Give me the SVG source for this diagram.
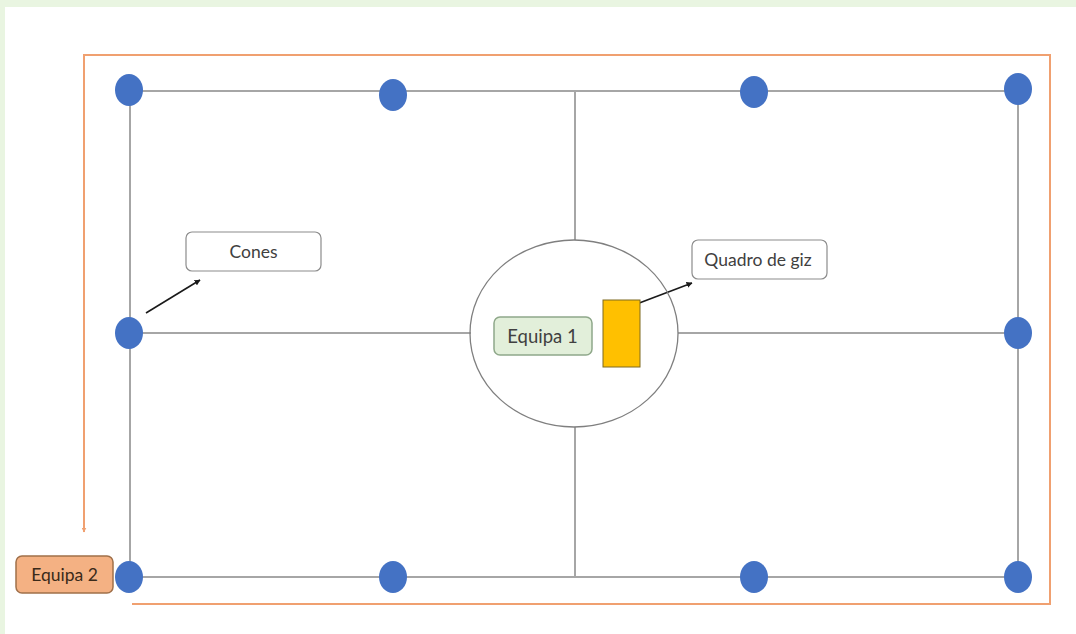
<svg xmlns="http://www.w3.org/2000/svg" width="1076" height="634" viewBox="0 0 1076 634">
<style>
.grid{stroke:#A6A6A6;stroke-width:2;fill:none}
.dot{fill:#4472C4}
.lbl{font-family:Lato,"Open Sans","Liberation Sans",sans-serif;font-size:17.5px;fill:#404040;text-anchor:middle;dominant-baseline:central}
.callout{fill:#FFFFFF;stroke:#8C8C8C;stroke-width:1.2}
.arr{stroke:#1a1a1a;stroke-width:1.6;fill:none;marker-end:url(#ah)}
</style>
<defs>
<marker id="ah" viewBox="0 0 10 10" refX="9" refY="5" markerWidth="6" markerHeight="6" orient="auto" markerUnits="userSpaceOnUse">
<path d="M0,0 L10,5 L0,10 z" fill="#1a1a1a"/>
</marker>
<marker id="oh" viewBox="0 0 10 10" refX="9" refY="5" markerWidth="5" markerHeight="5" orient="auto" markerUnits="userSpaceOnUse">
<path d="M0,0 L10,5 L0,10 z" fill="#F0A070"/>
</marker>
</defs>
<rect x="0" y="0" width="1076" height="634" fill="#E9F5E1"/>
<rect x="5" y="7" width="1071" height="627" fill="#FFFFFF"/>
<g id="connectors">
<path d="M132,604 L1050,604 L1050,55 L84,55 L84,532" stroke="#F0A070" stroke-width="2" fill="none" marker-end="url(#oh)"/>
<rect class="grid" x="130" y="91" width="888" height="486"/>
<line class="grid" x1="130" y1="333" x2="471" y2="333"/>
<line class="grid" x1="678" y1="333" x2="1018" y2="333"/>
<line class="grid" x1="575" y1="91" x2="575" y2="240"/>
<line class="grid" x1="575" y1="427" x2="575" y2="577"/>
<line class="arr" x1="146" y1="313" x2="200" y2="280"/>
<line class="arr" x1="634" y1="305" x2="692" y2="283"/>
</g>
<g id="field-circle"><ellipse cx="574" cy="333.5" rx="104" ry="93.5" fill="none" stroke="#7F7F7F" stroke-width="1.3"/></g>
<g id="cones">
<ellipse class="dot" cx="129" cy="90" rx="14" ry="16"/>
<ellipse class="dot" cx="393" cy="95" rx="14" ry="16"/>
<ellipse class="dot" cx="754" cy="92" rx="14" ry="16"/>
<ellipse class="dot" cx="1018" cy="89" rx="14" ry="16"/>
<ellipse class="dot" cx="129" cy="333" rx="14" ry="16"/>
<ellipse class="dot" cx="1018" cy="333" rx="14" ry="16"/>
<ellipse class="dot" cx="129" cy="577" rx="14" ry="16"/>
<ellipse class="dot" cx="393" cy="577" rx="14" ry="16"/>
<ellipse class="dot" cx="754" cy="577" rx="14" ry="16"/>
<ellipse class="dot" cx="1018" cy="577" rx="14" ry="16"/>
</g>
<g id="cones-label">
<rect class="callout" x="186" y="232" width="135" height="39" rx="6"/>
<text class="lbl" x="253.5" y="251">Cones</text>
</g>
<g id="quadro-label">
<rect class="callout" x="692" y="240" width="135" height="39" rx="6"/>
<text class="lbl" x="758" y="259">Quadro de giz</text>
</g>
<g id="quadro">
<rect x="603" y="300" width="37" height="67" fill="#FFC000" stroke="#7F6A20" stroke-width="1"/>
</g>
<g id="equipa1">
<rect x="494" y="317" width="98" height="38" rx="6" fill="#E2EFDA" stroke="#8FA88A" stroke-width="1.5"/>
<text class="lbl" x="542.5" y="336" style="font-size:18.5px">Equipa 1</text>
</g>
<g id="equipa2">
<rect x="16" y="556" width="97" height="37" rx="6" fill="#F4B183" stroke="#A0704A" stroke-width="1.5"/>
<text class="lbl" x="64.5" y="574.5" style="fill:#3A2A1A">Equipa 2</text>
</g>
</svg>
